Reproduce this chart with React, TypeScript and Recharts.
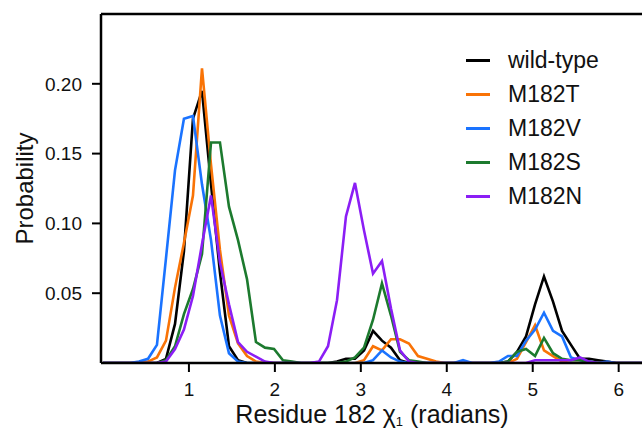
import React from 'react';
import { LineChart, Line, XAxis, YAxis, Legend, Label, ReferenceLine } from 'recharts';

// chi1 bin centres (radians), 60 bins over 0..2pi
const angles = [
  0, 0.105, 0.209, 0.314, 0.419, 0.524, 0.628, 0.733, 0.838, 0.942,
  1.047, 1.152, 1.257, 1.361, 1.466, 1.571, 1.676, 1.78, 1.885, 1.99,
  2.094, 2.199, 2.304, 2.409, 2.513, 2.618, 2.723, 2.827, 2.932, 3.037,
  3.142, 3.246, 3.351, 3.456, 3.56, 3.665, 3.77, 3.875, 3.979, 4.084,
  4.189, 4.294, 4.398, 4.503, 4.608, 4.712, 4.817, 4.922, 5.027, 5.131,
  5.236, 5.341, 5.445, 5.55, 5.655, 5.76, 5.864, 5.969, 6.074, 6.178,
  6.283,
];

const wildType = [
  0, 0, 0, 0, 0, 0, 0, 0.003, 0.028, 0.08,
  0.175, 0.195, 0.128, 0.065, 0.012, 0.002, 0, 0, 0, 0,
  0, 0, 0, 0, 0, 0, 0.001, 0.003, 0.003, 0.009,
  0.023, 0.016, 0.011, 0.002, 0, 0, 0, 0, 0, 0,
  0, 0, 0, 0, 0, 0.001, 0.008, 0.019, 0.042, 0.062,
  0.044, 0.023, 0.013, 0.003, 0.003, 0.002, 0.001, 0, 0, 0,
  0,
];

const m182T = [
  0, 0, 0, 0, 0, 0.001, 0.004, 0.016, 0.054, 0.086,
  0.12, 0.211, 0.142, 0.081, 0.034, 0.014, 0.005, 0.001, 0, 0,
  0, 0, 0, 0, 0, 0, 0, 0, 0, 0.002,
  0.012, 0.009, 0.017, 0.017, 0.014, 0.005, 0.003, 0.001, 0, 0,
  0, 0, 0, 0, 0, 0, 0.003, 0.015, 0.027, 0.009,
  0.005, 0.001, 0, 0, 0, 0, 0, 0, 0, 0,
  0,
];

const m182V = [
  0, 0, 0, 0, 0.001, 0.003, 0.013, 0.075, 0.138, 0.175,
  0.177, 0.128, 0.088, 0.034, 0.007, 0.001, 0, 0, 0, 0,
  0, 0, 0, 0, 0, 0, 0, 0, 0, 0,
  0.002, 0.009, 0.004, 0.001, 0, 0, 0, 0, 0, 0,
  0.002, 0, 0, 0, 0.001, 0.005, 0.005, 0.016, 0.024, 0.036,
  0.023, 0.019, 0.004, 0.002, 0.001, 0, 0.001, 0, 0, 0,
  0,
];

const m182S = [
  0, 0, 0, 0, 0, 0, 0, 0.002, 0.012, 0.035,
  0.053, 0.078, 0.158, 0.158, 0.112, 0.088, 0.06, 0.015, 0.011, 0.01,
  0.002, 0.001, 0, 0, 0, 0, 0, 0.001, 0.004, 0.011,
  0.031, 0.057, 0.034, 0.008, 0.002, 0.001, 0, 0, 0, 0,
  0, 0, 0, 0, 0, 0.001, 0.008, 0.01, 0.005, 0.018,
  0.007, 0.003, 0.002, 0.002, 0.001, 0, 0, 0, 0, 0,
  0,
];

const m182N = [
  0, 0, 0, 0, 0, 0, 0, 0.001, 0.01, 0.024,
  0.048, 0.085, 0.12, 0.072, 0.042, 0.015, 0.008, 0.0045, 0.001, 0,
  0, 0, 0, 0, 0.001, 0.012, 0.045, 0.105, 0.129, 0.095,
  0.064, 0.073, 0.039, 0.009, 0.001, 0, 0, 0, 0, 0,
  0, 0, 0, 0, 0, 0, 0, 0, 0.002, 0.002,
  0.002, 0.002, 0.002, 0.004, 0.001, 0, 0, 0, 0, 0,
  0,
];

const xTicks = [1, 2, 3, 4, 5, 6];
const yTicks = [0.05, 0.1, 0.15, 0.2];

const series = [
  { key: 'wildType', name: 'wild-type', color: '#000000', values: wildType },
  { key: 'm182T', name: 'M182T', color: '#f97306', values: m182T },
  { key: 'm182V', name: 'M182V', color: '#1a73ff', values: m182V },
  { key: 'm182S', name: 'M182S', color: '#1c7a2e', values: m182S },
  { key: 'm182N', name: 'M182N', color: '#8b1ef5', values: m182N },
];

const data = angles.map((x, i) => {
  const row: { [k: string]: number } = { x };
  series.forEach((s) => {
    row[s.key] = s.values[i];
  });
  return row;
});

const FONT = '"Liberation Sans", Arial, sans-serif';

const XTitle = ({ viewBox }: any) => (
  <text
    x={viewBox.x + viewBox.width / 2}
    y={viewBox.y + 60}
    textAnchor="middle"
    fontSize={25}
    fontFamily={FONT}
    fill="#111"
  >
    Residue 182 χ
    <tspan fontSize={13} dy={3}>1</tspan>
    <tspan dy={-3}> (radians)</tspan>
  </text>
);

const YTitle = ({ viewBox }: any) => {
  const cx = 33;
  const cy = viewBox.y + viewBox.height / 2;
  return (
    <text
      x={cx}
      y={cy}
      transform={`rotate(-90 ${cx} ${cy})`}
      textAnchor="middle"
      fontSize={24}
      fontFamily={FONT}
      fill="#111"
    >
      Probability
    </text>
  );
};

const renderLegend = () => (
  <div style={{ fontFamily: FONT, fontSize: 23, color: '#111' }}>
    {series.map((s) => (
      <div key={s.key} style={{ display: 'flex', alignItems: 'center', height: 34 }}>
        <span style={{ display: 'inline-block', width: 24, height: 3, background: s.color, marginRight: 18 }} />
        <span>{s.name}</span>
      </div>
    ))}
  </div>
);

export default function App() {
  return (
    <div style={{ position: 'absolute', left: 0, top: 0 }}>
      <LineChart
        width={650}
        height={429}
        data={data}
        margin={{ top: 14, right: 7, bottom: 0, left: 0 }}
      >
        <XAxis
          dataKey="x"
          type="number"
          domain={[-0.023, 6.283]}
          ticks={xTicks}
          allowDataOverflow
          height={66}
          tickSize={9}
          tickMargin={11}
          axisLine={{ stroke: '#000', strokeWidth: 2.5 }}
          tickLine={{ stroke: '#000', strokeWidth: 2 }}
          tick={{ fill: '#111', fontSize: 19, fontFamily: FONT }}
        >
          <Label content={XTitle} />
        </XAxis>
        <YAxis
          type="number"
          domain={[0, 0.25]}
          ticks={yTicks}
          allowDataOverflow
          width={101}
          tickSize={9}
          tickMargin={10}
          tickFormatter={(v: number) => v.toFixed(2)}
          axisLine={{ stroke: '#000', strokeWidth: 2.5 }}
          tickLine={{ stroke: '#000', strokeWidth: 2 }}
          tick={{ fill: '#111', fontSize: 19, fontFamily: FONT }}
        >
          <Label content={YTitle} />
        </YAxis>
        {/* top spine */}
        <ReferenceLine y={0.25} stroke="#000" strokeWidth={2.5} ifOverflow="visible" />
        <Legend
          layout="vertical"
          align="center"
          verticalAlign="middle"
          content={renderLegend}
          wrapperStyle={{ position: 'absolute', left: 466, top: 43, width: 'auto' }}
        />
        {series.map((s) => (
          <Line
            key={s.key}
            type="linear"
            dataKey={s.key}
            name={s.name}
            stroke={s.color}
            strokeWidth={2.6}
            dot={false}
            isAnimationActive={false}
          />
        ))}
      </LineChart>
    </div>
  );
}
